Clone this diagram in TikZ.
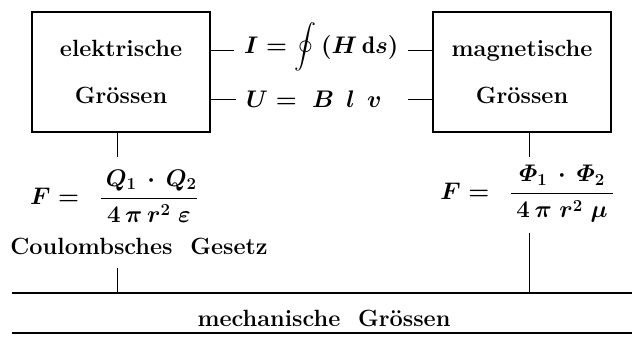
\RequirePackage{fix-cm}
\documentclass[tikz,border=0pt]{standalone}
\usepackage{amsmath}
\usepackage{graphicx}
\usepackage{fontspec}
\begin{document}
\begin{tikzpicture}[x=1pt,y=-1pt,
  every node/.style={inner sep=0pt},
  txt/.style={font=\fontsize{23.5}{47}\selectfont\bfseries},
  mth/.style={font=\fontsize{24}{28}\selectfont\boldmath},
  bigbox/.style={draw,line width=1.5pt,minimum width=178pt,minimum height=120pt,align=center,txt},
  eqline/.style={mth,inner xsep=10pt,anchor=west},
  thin/.style={line width=0.9pt},
  rule/.style={line width=1.4pt}]
\useasboundingbox (0,0) rectangle (632,343);
\node[bigbox] (lbox) at (121,72) {elektrische\\Grössen};
\node[bigbox] (rbox) at (522,72) {magnetische\\Grössen};
\node[eqline] (eqI) at (234,47) {\makebox[154pt][l]{$I = \vcenter{\hbox{\scalebox{0.88}{$\displaystyle\oint$}}}\, (H\,\mathrm{d}s)$}};
\node[eqline] (eqU) at (236,99) {\makebox[152pt][l]{$U = \;B\;\,l\;\,v$}};
\coordinate (r1) at (0,50);
\draw[thin] (lbox.east |- r1) -- (eqI.west |- r1);
\draw[thin] (eqI.east |- r1) -- (rbox.west |- r1);
\draw[thin] (eqU.west -| lbox.east) -- (eqU.west);
\draw[thin] (eqU.east) -- (eqU.east -| rbox.west);
\node[mth] (Fl) at (114,196) {$F = \hspace{0.55em}\dfrac{\,Q_1\,\cdot\,Q_2}{4\,\pi\,r^2\;\varepsilon}$};
\node[mth] (Fr) at (527,194) {$F = \hspace{0.55em}\dfrac{\;\varPhi_1\,\cdot\,\varPhi_2\;}{4\,\pi\;r^2\;\mu}$};
\node[txt] (coul) at (139,246) {Coulombsches\ \ Gesetz};
\node[txt] (mech) at (324,318) {mechanische\ \ Grössen};
\coordinate (lstem) at (117,157);
\coordinate (rstem) at (529,157);
\coordinate (ltop) at (117,268);
\coordinate (rtop) at (529,233);
\coordinate (m1a) at (12,293);
\coordinate (m1b) at (632,293);
\coordinate (m2a) at (12,333);
\coordinate (m2b) at (632,333);
\draw[thin] (lbox.south -| lstem) -- (lstem);
\draw[thin] (rbox.south -| rstem) -- (rstem);
\draw[thin] (ltop) -- (ltop |- m1a);
\draw[thin] (rtop) -- (rtop |- m1a);
\draw[rule] (m1a) -- (m1b);
\draw[rule] (m2a) -- (m2b);
\end{tikzpicture}
\end{document}
